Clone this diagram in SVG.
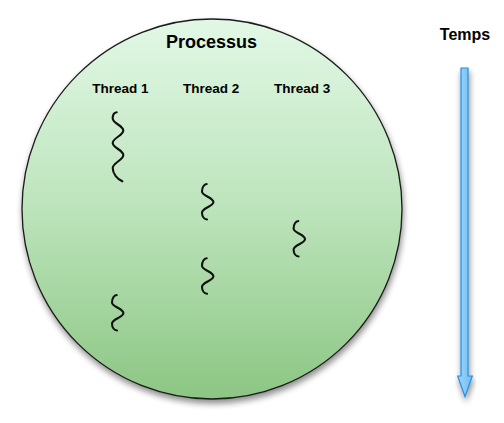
<svg xmlns="http://www.w3.org/2000/svg" width="504" height="423" viewBox="0 0 504 423">
  <defs>
    <linearGradient id="procFill" x1="0" y1="0" x2="0" y2="1">
      <stop offset="0" stop-color="#e2f8e6"/>
      <stop offset="0.5" stop-color="#bce4bb"/>
      <stop offset="1" stop-color="#8cc683"/>
    </linearGradient>
    <linearGradient id="arrowFill" x1="0" y1="0" x2="1" y2="0">
      <stop offset="0" stop-color="#9ed6fa"/>
      <stop offset="1" stop-color="#6fbdf3"/>
    </linearGradient>
    <filter id="shadow" x="-20%" y="-20%" width="140%" height="140%">
      <feGaussianBlur in="SourceAlpha" stdDeviation="3"/>
      <feOffset dx="1" dy="4" result="b"/>
      <feComponentTransfer><feFuncA type="linear" slope="0.45"/></feComponentTransfer>
      <feMerge><feMergeNode/><feMergeNode in="SourceGraphic"/></feMerge>
    </filter>
    <path id="sq" d="M0,0 C-2.6,0.2 -4.7,3.3 -4.7,7.5 C-4.7,12 6.7,13.5 6.7,18 C6.7,22.5 -4.7,24 -4.7,28.5 C-4.7,32.5 -2.4,35.3 0.3,35.5"/>
    <style>
      .t{font-family:"Liberation Sans",Arial,Helvetica,sans-serif;font-weight:bold;fill:#000;text-anchor:middle}
      .sq{fill:none;stroke:#111;stroke-width:2.1;stroke-linecap:round}
    </style>
  </defs>

  <g id="processus">
    <circle cx="212" cy="209" r="190" fill="url(#procFill)" stroke="#1a1a1a" stroke-width="1.3" filter="url(#shadow)"/>
    <text class="t" x="211.5" y="47.7" font-size="18">Processus</text>
  </g>

  <g id="thread1">
    <text class="t" x="120.3" y="92.7" font-size="13.5">Thread 1</text>
    <path class="sq" d="M116.7,112.3 C114.3,112.6 112.7,115 112.7,118.5 C112.7,123.5 123.3,125.5 123.3,130.5 C123.3,135.7 112.7,137.8 112.7,143 C112.7,148 123.3,150 123.3,155 C123.3,160.2 112.7,162.8 112.7,168 C112.7,174 117.5,179 122.3,181.3"/>
    <use class="sq" href="#sq" x="116.7" y="295"/>
  </g>

  <g id="thread2">
    <text class="t" x="211.2" y="92.7" font-size="13.5">Thread 2</text>
    <use class="sq" href="#sq" x="206.7" y="184"/>
    <use class="sq" href="#sq" x="206.7" y="258.3"/>
  </g>

  <g id="thread3">
    <text class="t" x="302.2" y="92.7" font-size="13.5">Thread 3</text>
    <use class="sq" href="#sq" x="298.3" y="221"/>
  </g>

  <g id="temps">
    <text class="t" x="465" y="39.5" font-size="16">Temps</text>
  </g>

  <g id="connectors">
    <path id="time-arrow" d="M461,68 H468 V376 H472.3 L465,396.7 L457.7,376 H461 Z" fill="url(#arrowFill)" stroke="#2a8de0" stroke-width="1.2" stroke-linejoin="miter" filter="url(#shadow)"/>
  </g>
</svg>
